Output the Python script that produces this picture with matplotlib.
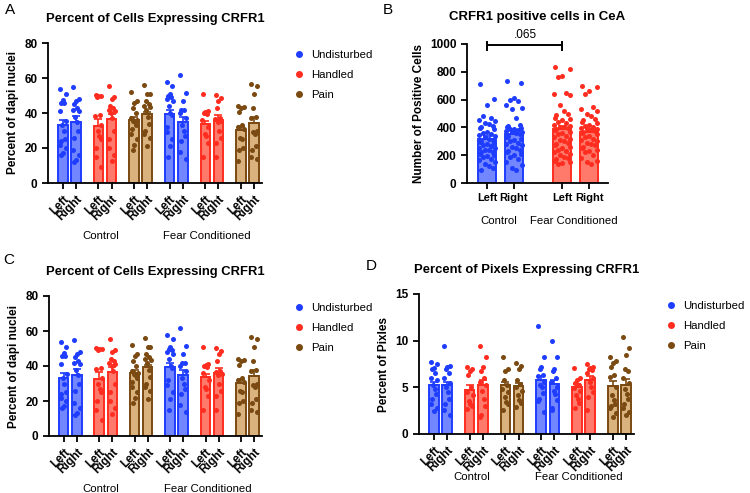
import numpy as np
import matplotlib
matplotlib.use('Agg')
import matplotlib.pyplot as plt
from matplotlib.lines import Line2D

plt.rcParams['font.family'] = ['Liberation Sans', 'DejaVu Sans']

# ---- data -------------------------------------------------------------
groups = ['Undisturbed', 'Handled', 'Pain']
conditions = ['Control', 'Fear Conditioned']
sides = ['Left', 'Right']

# Percent of cells expressing CRFR1 (panels A and C), order:
# Control U-L, U-R, H-L, H-R, P-L, P-R, then Fear Conditioned the same
pct_cells_means = [33.2, 34.8, 32.8, 36.5, 36.0, 39.2, 39.5, 35.0, 33.5, 36.0, 30.5, 34.5]
pct_cells_sem = [3.0, 3.5, 3.5, 3.0, 2.0, 1.5, 2.5, 3.0, 2.0, 3.0, 2.0, 3.0]
pct_cells_points = [
    [53.5, 51, 47.5, 46, 45.5, 41, 35.5, 33, 30, 25, 24, 22, 20, 17, 16],
    [55, 48, 47, 45, 43, 42, 41, 38, 35, 30, 26, 19, 16, 13, 12],
    [50.5, 50, 49.5, 49, 39, 38.5, 33, 30, 27, 25, 20, 15, 9],
    [55.5, 49, 48, 44, 43, 42, 41, 40, 37, 30, 25, 20, 16, 12.5],
    [52, 47, 46, 43, 40, 37, 36, 35.5, 35, 33, 31, 28, 25, 22, 19],
    [56, 51, 51, 47, 45, 44, 43.5, 42, 38, 34, 30, 28, 26, 21],
    [57.5, 55.5, 51, 50, 49, 48, 47, 44, 40, 39, 32, 29, 25, 21, 15],
    [61.5, 51.5, 47, 42, 41.5, 40, 37, 33, 30, 27, 24, 18, 14],
    [51, 41, 40.5, 40, 39.5, 36, 32, 28, 27, 23, 15],
    [50.5, 48.5, 47, 43, 37, 36.5, 35.5, 35, 30, 26, 23, 15],
    [44, 43.5, 43, 40.5, 33, 32, 31, 26, 25, 20, 19, 12.5],
    [56.5, 55.5, 51, 43, 38, 37, 30, 29, 28, 21, 19, 15, 14],
]

# Percent of pixels expressing CRFR1 (panel D)
pct_pix_means = [5.2, 5.2, 4.7, 5.3, 5.2, 5.1, 5.8, 5.35, 5.0, 5.8, 5.1, 5.3]
pct_pix_sem = [0.4, 0.4, 0.5, 0.45, 0.4, 0.35, 0.45, 0.45, 0.35, 0.4, 0.6, 0.55]
pct_pix_points = [
    [7.7, 7.5, 7.1, 7.0, 6.5, 6.0, 5.8, 5.2, 4.8, 4.3, 3.7, 3.2, 2.8, 2.5],
    [9.4, 7.3, 7.2, 7.0, 6.5, 6.0, 5.5, 5.0, 4.5, 3.8, 3.2, 2.6, 2.0],
    [7.2, 7.0, 6.8, 6.3, 5.0, 4.5, 4.2, 3.5, 3.2, 3.0, 2.7],
    [9.4, 8.3, 7.2, 6.8, 6.0, 5.6, 5.2, 4.6, 3.8, 3.0, 2.0, 1.8],
    [8.3, 7.0, 6.8, 5.8, 5.2, 4.8, 4.5, 4.0, 3.4, 3.2, 2.6],
    [7.6, 7.3, 7.0, 5.8, 5.4, 5.0, 4.6, 4.2, 3.6, 3.3, 2.9],
    [11.6, 8.2, 7.2, 7.0, 6.3, 6.2, 5.6, 5.2, 5.0, 4.4, 3.8, 3.5, 2.4],
    [10.0, 8.2, 7.0, 6.8, 6.0, 5.6, 5.0, 4.6, 4.3, 3.6, 2.8, 2.6],
    [7.1, 6.0, 5.8, 5.5, 5.2, 4.9, 4.6, 4.2, 3.8, 3.3, 2.8],
    [7.5, 7.2, 7.1, 7.0, 6.9, 6.5, 6.0, 5.6, 5.0, 4.5, 4.0, 2.6],
    [8.3, 7.8, 7.6, 7.2, 6.3, 6.1, 5.0, 4.2, 3.6, 3.2, 3.0, 2.8, 2.3, 1.8],
    [10.4, 9.2, 8.5, 7.0, 6.8, 6.0, 5.5, 4.8, 4.3, 3.8, 3.2, 2.8, 2.4, 2.0],
]

# CRFR1 positive cells in CeA (panel B): Control L, R, Fear Conditioned L, R
cea_means = [320, 355, 385, 370]
cea_sem = [20, 20, 25, 20]
cea_points = [
    [715, 605, 560, 480, 470, 455, 445, 430, 425, 410, 400, 395, 385, 370, 360,
     350, 345, 335, 330, 320, 310, 305, 295, 290, 280, 270, 265, 255, 250, 240,
     235, 225, 220, 210, 200, 195, 185, 175, 165, 150, 140, 125, 110, 90],
    [735, 720, 610, 600, 590, 560, 540, 530, 470, 420, 410, 400, 395, 390, 385,
     380, 375, 370, 365, 360, 350, 340, 330, 320, 310, 300, 290, 280, 270, 260,
     250, 240, 230, 220, 210, 200, 190, 170, 150, 130, 110, 95],
    [835, 820, 770, 765, 650, 640, 635, 560, 520, 500, 490, 470, 460, 450, 440,
     430, 420, 410, 405, 400, 395, 390, 380, 370, 360, 350, 340, 330, 320, 310,
     300, 290, 280, 270, 260, 250, 240, 230, 220, 210, 200, 190, 180, 170, 160,
     150, 145, 140],
    [700, 690, 660, 640, 545, 535, 520, 500, 480, 460, 450, 440, 430, 420, 410,
     400, 395, 390, 385, 380, 375, 370, 360, 350, 340, 330, 320, 310, 300, 290,
     280, 270, 260, 250, 240, 230, 220, 200, 180, 160, 150, 140],
]
cea_p_label = '.065'

# ---- style ------------------------------------------------------------
DOT = {'Undisturbed': '#1f3dff', 'Handled': '#ff2d1f', 'Pain': '#7a4a12'}
FACE = {'Undisturbed': '#7186ff', 'Handled': '#ff7a6b', 'Pain': '#d9b27e'}
JITTER = [-0.55, 0.55, 0.0, -0.3, 0.3, -0.6, 0.6, -0.15, 0.15, 0.45, -0.45]

W, H = 750, 493


def ax_rect(x0, y0, x1, y1):
    return [x0 / W, 1 - y1 / H, (x1 - x0) / W, (y1 - y0) / H]


def style_axis(ax):
    for s in ['top', 'right']:
        ax.spines[s].set_visible(False)
    for s in ['left', 'bottom']:
        ax.spines[s].set_linewidth(1.3)
    ax.tick_params(axis='both', width=1.3, length=4)
    ax.tick_params(axis='y', labelsize=8.5)
    for lab in ax.get_yticklabels():
        lab.set_fontweight('bold')


def draw_bars(ax, xs, means, sems, points, names, width, spread):
    for x, m, e, pts, g in zip(xs, means, sems, points, names):
        pts = np.sort(np.array(pts))[::-1]
        off = np.array([JITTER[i % len(JITTER)] for i in range(len(pts))]) * spread
        ax.bar(x, m, width=width, color=FACE[g], edgecolor=DOT[g], linewidth=1.4, zorder=2)
        ax.errorbar(x, m, yerr=[[0], [e]], color=DOT[g], capsize=3, elinewidth=1.2,
                    capthick=1.2, zorder=3)
        ax.scatter(x + off, pts, s=13, color=DOT[g], linewidths=0, zorder=4, clip_on=False)


def group_panel(ax, means, sems, points, ylim, yticks, ylabel, title, group_y_px, legend_y):
    pair_step = 2.7
    xs = []
    names = []
    for ci in range(2):
        for gi, g in enumerate(groups):
            base = (ci * 3 + gi) * pair_step
            xs += [base, base + 1]
            names += [g, g]
    draw_bars(ax, xs, means, sems, points, names, 0.72, 0.38)
    ax.set_xlim(-1.12, 15.1)
    ax.set_ylim(*ylim)
    ax.set_yticks(yticks)
    ax.set_xticks(xs)
    ax.set_xticklabels(sides * 6, rotation=45, ha='right', va='top',
                       rotation_mode='anchor', fontweight='bold', fontsize=8.5)
    ax.set_ylabel(ylabel, fontweight='bold', fontsize=8.5)
    ax.set_title(title, fontweight='bold', fontsize=9.4, pad=15)
    style_axis(ax)
    for ci, c in enumerate(conditions):
        cx = np.mean(xs[ci * 6:(ci + 1) * 6]) - 0.35
        ax.text(cx, group_y_px, c, transform=ax.get_xaxis_transform(),
                ha='center', va='center', fontsize=8.2)
    handles = [Line2D([], [], marker='o', ls='none', color=DOT[g], markersize=4)
               for g in groups]
    ax.legend(handles, groups, loc='upper left', bbox_to_anchor=(1.1, legend_y),
              frameon=False, fontsize=8.2, handletextpad=0.5, labelspacing=0.85,
              handlelength=1.0)


fig = plt.figure(figsize=(7.5, 4.93), dpi=100)

axA = fig.add_axes(ax_rect(48, 43, 262, 183))
group_panel(axA, pct_cells_means, pct_cells_sem, pct_cells_points, (0, 80),
            [0, 20, 40, 60, 80], 'Percent of dapi nuclei',
            'Percent of Cells Expressing CRFR1', -0.38, 1.02)

axC = fig.add_axes(ax_rect(49, 296, 262, 436))
group_panel(axC, pct_cells_means, pct_cells_sem, pct_cells_points, (0, 80),
            [0, 20, 40, 60, 80], 'Percent of dapi nuclei',
            'Percent of Cells Expressing CRFR1', -0.38, 1.02)

axD = fig.add_axes(ax_rect(419, 294, 634, 434))
group_panel(axD, pct_pix_means, pct_pix_sem, pct_pix_points, (0, 15),
            [0, 5, 10, 15], 'Percent of Pixles',
            'Percent of Pixels Expressing CRFR1', -0.31, 1.02)

# panel B
axB = fig.add_axes(ax_rect(467, 44, 608, 183))
xsB = [0, 1, 2.78, 3.78]
namesB = ['Undisturbed', 'Undisturbed', 'Handled', 'Handled']
draw_bars(axB, xsB, cea_means, cea_sem, cea_points, namesB, 0.66, 0.5)
axB.set_xlim(-0.74, 4.48)
axB.set_ylim(0, 1000)
axB.set_yticks(range(0, 1001, 200))
axB.set_xticks(xsB)
axB.set_xticklabels(sides * 2, fontweight='bold', fontsize=8)
axB.set_ylabel('Number of Positive Cells', fontweight='bold', fontsize=8.5)
axB.set_title('CRFR1 positive cells in CeA', fontweight='bold', fontsize=9.5, pad=17)
style_axis(axB)
for ci, c in enumerate(conditions):
    axB.text(np.mean(xsB[ci * 2:ci * 2 + 2]) - 0.05, -0.27, c,
             transform=axB.get_xaxis_transform(), ha='center', va='center', fontsize=8.2)
# significance bracket
axB.plot([xsB[0], xsB[2]], [990, 990], color='black', lw=1.4, clip_on=False)
for bx in (xsB[0], xsB[2]):
    axB.plot([bx, bx], [960, 1015], color='black', lw=1.4, clip_on=False)
axB.text(np.mean([xsB[0], xsB[2]]) + 0.05, 1062, cea_p_label, ha='center', va='center',
         fontsize=8.5)

# panel letters
for letter, x, y in [('A', 5, 3), ('B', 383, 3), ('C', 3, 253), ('D', 366, 259)]:
    fig.text(x / W, 1 - y / H, letter, fontsize=11, ha='left', va='top')

fig.savefig('out.png', dpi=100)
